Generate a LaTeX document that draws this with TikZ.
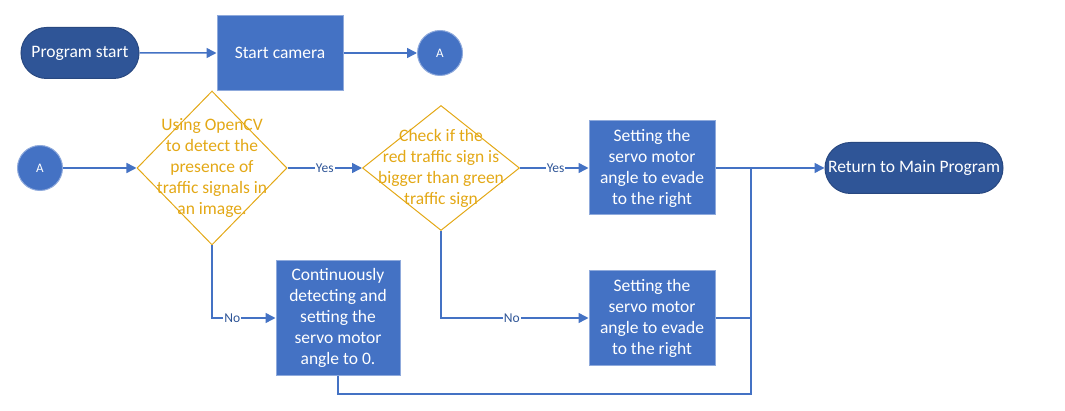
\documentclass[tikz,border=0pt]{standalone}
\usepackage{fontspec}
\setmainfont{Carlito}
\usetikzlibrary{shapes,arrows,arrows.meta,positioning,calc}
\definecolor{boxblue}{HTML}{4472C4}
\definecolor{pillblue}{HTML}{2F5597}
\definecolor{edgeblue}{HTML}{8FAADC}
\definecolor{signgold}{HTML}{E3A816}

\begin{document}
\begin{tikzpicture}[x=1pt,y=-1pt,>={Triangle[length=10pt,width=10pt]},
  every node/.style={font=\fontsize{17.5}{21}\selectfont},
  pill/.style={rounded rectangle,fill=pillblue,draw=pillblue!85!black,line width=1pt,text=white,minimum width=126pt,minimum height=51pt,inner xsep=4pt},
  block/.style={rectangle,fill=boxblue,draw=edgeblue,line width=1pt,text=white,align=center,minimum width=126pt,minimum height=94pt,inner sep=0pt},
  conn/.style={circle,fill=boxblue,draw=edgeblue,line width=1pt,text=white,minimum size=45pt,inner sep=0pt,font=\fontsize{13}{15}\selectfont},
  decision/.style={diamond,draw=signgold,line width=1pt,inner sep=0pt},
  signtext/.style={text=signgold,align=center},
  flow/.style={draw=boxblue,line width=1.5pt},
  tag/.style={fill=white,inner sep=1pt,text=pillblue,font=\fontsize{13.5}{15}\selectfont}]
  \useasboundingbox (0,0) rectangle (1065,411);
  \node [pill] (start) at (80,53) {Program start};
  \node [block,minimum height=75pt] (camera) at (280,53) {Start camera};
  \node [conn] (atop) at (440,53) {A};
  \node [conn] (aleft) at (40,168) {A};
  \node [decision,minimum width=150pt,minimum height=154pt] (d1) at (212,168) {};
  \node [signtext] (d1txt) at (212,168) {Using OpenCV\\to detect the\\presence of\\traffic signals in\\an image.};
  \node [decision,minimum width=157pt,minimum height=125pt] (d2) at (441,168) {};
  \node [signtext] (d2txt) at (441,168) {Check if the\\red traffic sign is\\bigger than green\\traffic sign};
  \node [block] (yesbox) at (652,168) {Setting the\\servo motor\\angle to evade\\to the right};
  \node [block] (nobox) at (652,318) {Setting the\\servo motor\\angle to evade\\to the right};
  \node [block,minimum width=124pt,minimum height=114pt] (cont) at (338,318) {Continuously\\detecting and\\setting the\\servo motor\\angle to 0.};
  \node [pill,minimum width=186pt] (ret) at (914,168) {Return to Main Program};
  \coordinate (join) at (751,168);
  \coordinate (low) at (751,394);
  \draw [flow,->] (start) -- (camera);
  \draw [flow,->] (camera) -- (atop);
  \draw [flow,->] (aleft) -- (d1);
  \draw [flow,->] (d1) -- node [tag] {Yes} (d2);
  \draw [flow,->] (d2) -- node [tag,pos=0.52] {Yes} (yesbox);
  \draw [flow,->] (d1.south) |- node [tag,pos=0.66] {No} (cont.west);
  \draw [flow,->] (d2.south) |- node [tag,pos=0.74] {No} (nobox.west);
  \draw [flow,->] (yesbox) -- (ret);
  \draw [flow] (nobox.east) -| (join);
  \draw [flow] (cont.south) |- (low) -- (join);
\end{tikzpicture}
\end{document}
